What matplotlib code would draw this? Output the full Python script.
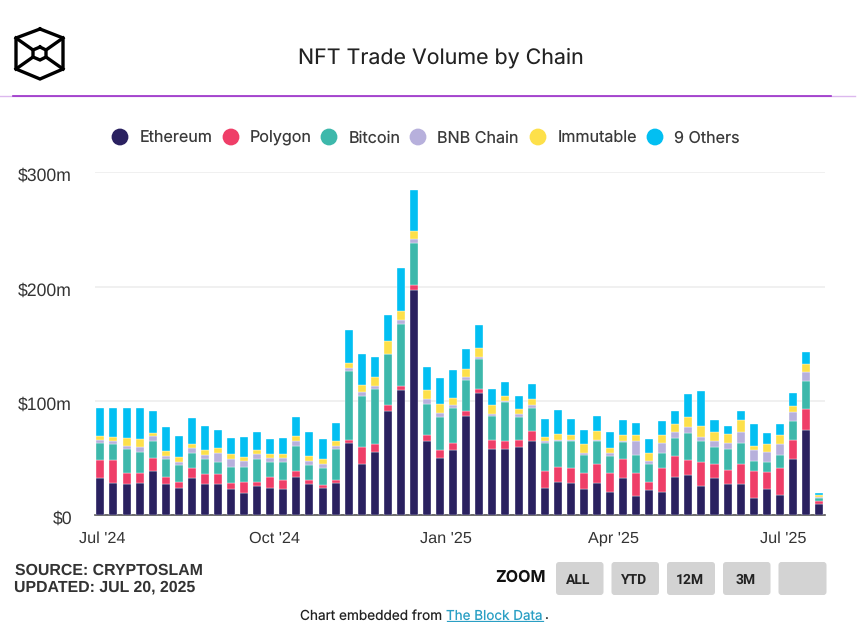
import matplotlib
matplotlib.use('Agg')
import matplotlib.pyplot as plt
import matplotlib.dates as mdates
import numpy as np
import pandas as pd
from matplotlib.patches import FancyBboxPatch, Circle
from matplotlib.transforms import ScaledTranslation

plt.rcParams['font.family'] = ['Inter', 'DejaVu Sans']
plt.rcParams['text.hinting'] = 'no_hinting'

# weekly values in $m
ethereum = [32.2, 28.4, 27.0, 28.4, 38.8, 27.0, 24.3, 32.2, 27.0, 27.0, 23.2, 19.1, 25.8, 24.3,
            23.2, 33.6, 27.0, 24.3, 28.1, 63.6, 45.2, 55.7, 91.2, 109.6, 197.4, 65.0, 50.4, 57.1,
            87.2, 107.0, 58.3, 58.3, 59.7, 65.0, 24.1, 29.3, 28.1, 23.2, 28.4, 20.6, 32.2, 16.5,
            21.7, 20.6, 33.8, 35.0, 25.8, 32.2, 27.0, 27.0, 15.4, 23.2, 18.0, 49.6, 74.4, 10.1]
polygon = [15.9, 19.7, 10.4, 9.0, 11.3, 6.7, 4.9, 9.3, 9.3, 9.3, 5.2, 10.1, 3.5, 9.3,
           7.8, 5.5, 4.1, 2.6, 2.6, 2.3, 14.5, 6.4, 5.2, 3.8, 3.8, 5.2, 6.4, 6.4,
           4.1, 3.8, 7.5, 6.7, 6.1, 9.0, 14.5, 13.0, 13.0, 14.2, 16.5, 16.8, 17.1, 20.9,
           7.8, 20.9, 18.3, 13.0, 20.9, 13.0, 13.0, 18.3, 23.5, 14.5, 23.5, 16.6, 18.4, 2.6]
bitcoin = [15.4, 14.2, 20.6, 18.3, 14.8, 15.9, 14.8, 13.0, 13.0, 10.4, 14.2, 13.3, 20.0, 13.0,
           15.7, 21.7, 13.0, 14.5, 27.0, 60.6, 44.3, 48.7, 44.4, 53.9, 37.0, 27.4, 29.2, 30.3,
           27.4, 26.3, 21.3, 34.1, 20.1, 19.8, 24.6, 22.3, 23.5, 15.7, 20.0, 14.5, 14.5, 15.7,
           15.7, 13.0, 15.7, 23.6, 18.4, 14.5, 18.3, 18.3, 9.0, 9.0, 11.6, 16.0, 25.0, 2.0]
bnb = [2.0, 2.3, 2.9, 4.1, 4.1, 2.3, 2.6, 4.1, 3.8, 7.8, 6.7, 5.2, 4.1, 3.8,
       3.8, 4.1, 3.8, 3.8, 2.9, 2.6, 3.5, 2.6, 0.6, 3.8, 3.8, 3.8, 3.8, 2.6,
       2.6, 1.4, 1.4, 1.2, 2.6, 2.6, 1.4, 1.2, 1.2, 1.2, 1.2, 2.6, 1.2, 11.9,
       2.6, 9.0, 5.2, 5.2, 3.8, 5.2, 5.2, 9.3, 9.3, 9.0, 9.3, 7.8, 7.8, 1.2]
immutable = [3.5, 4.3, 6.7, 6.7, 2.6, 4.1, 4.1, 3.8, 4.1, 4.1, 4.1, 2.9, 3.8, 2.9,
             2.9, 4.1, 4.1, 4.1, 4.1, 4.1, 6.1, 7.8, 11.3, 7.8, 6.7, 8.1, 7.8, 6.4,
             6.7, 7.8, 7.8, 4.1, 4.1, 5.2, 4.1, 5.2, 4.1, 7.8, 7.8, 4.1, 5.2, 5.2,
             6.7, 6.7, 6.7, 9.0, 9.3, 7.8, 7.8, 10.4, 3.8, 6.7, 7.8, 5.5, 6.7, 1.7]
others = [24.6, 24.6, 26.1, 27.2, 19.4, 20.9, 18.3, 22.3, 20.9, 15.7, 14.2, 18.3, 15.7, 13.0,
          14.2, 16.8, 20.9, 17.1, 15.7, 28.9, 27.4, 17.2, 22.4, 37.0, 35.6, 19.8, 22.4, 23.9,
          17.2, 19.8, 14.5, 11.9, 11.6, 13.0, 15.7, 21.2, 14.5, 12.2, 13.0, 14.2, 13.0, 10.4,
          11.9, 11.9, 11.6, 20.1, 30.3, 10.4, 6.7, 7.8, 18.6, 9.3, 9.3, 11.6, 10.4, 1.7]

series = [('Ethereum', ethereum, '#2a2160'), ('Polygon', polygon, '#ef3e68'),
          ('Bitcoin', bitcoin, '#3db8ab'), ('BNB Chain', bnb, '#b7b0dc'),
          ('Immutable', immutable, '#fde04a'), ('9 Others', others, '#02bff2')]
weeks = pd.date_range('2024-06-30', periods=56, freq='7D')
tick_dates = pd.to_datetime(['2024-07-01', '2024-10-01', '2025-01-01', '2025-04-01', '2025-07-01'])
tick_labels = ["Jul '24", "Oct '24", "Jan '25", "Apr '25", "Jul '25"]
y_ticks = [0, 100, 200, 300]
y_labels = ['$0', '$100m', '$200m', '$300m']

W, H = 858, 622
fig = plt.figure(figsize=(W / 100, H / 100), dpi=100, facecolor='white')

ax = fig.add_axes([95 / W, 1 - 515.3 / H, 730 / W, 343 / H])
bottom = np.zeros(len(weeks))
for name, vals, col in series:
    ax.bar(weeks, vals, width=4.3, bottom=bottom, color=col, edgecolor='white', linewidth=0.25, zorder=3)
    bottom += np.array(vals)

ax.set_xlim(weeks[0] - pd.Timedelta(days=2.9), weeks[-1] + pd.Timedelta(days=3.2))
ax.set_ylim(0, 300)
ax.set_yticks(y_ticks)
ax.set_yticklabels(y_labels, fontsize=12.7, color='#333333', family=['Liberation Sans'])
ax.set_xticks(mdates.date2num(tick_dates))
ax.set_xticklabels(tick_labels, fontsize=11.7, color='#333333', family=['Liberation Sans'])
ax.tick_params(axis='both', length=0)
ax.tick_params(axis='x', pad=11.5)
ax.tick_params(axis='y', pad=16.5)
shift = ScaledTranslation(0, -1.6 / 72, fig.dpi_scale_trans)
for lab in ax.get_yticklabels():
    lab.set_transform(lab.get_transform() + shift)
ax.grid(axis='y', color='#eeeeee', linewidth=1.2, zorder=0)
for s in ['top', 'right', 'left']:
    ax.spines[s].set_visible(False)
ax.spines['bottom'].set_color('#555555')
ax.spines['bottom'].set_linewidth(1.2)
ax.patch.set_alpha(0)

# overlay in pixel coordinates for header, legend and footer
ov = fig.add_axes([0, 0, 1, 1], zorder=-1)
ov.set_xlim(0, W)
ov.set_ylim(H, 0)
ov.axis('off')

ov.text(440.5, 64, 'NFT Trade Volume by Chain', fontsize=15.4, ha='center', va='baseline', color='#222222')
ov.plot([0, 855], [95.5, 95.5], color='#dcb8ee', lw=1.0)
ov.plot([13, 831], [95.5, 95.5], color='#9a2fc8', lw=1.2)

# logo
k = dict(color='black', lw=2.4, solid_joinstyle='miter')
hx = [40, 63, 63, 40, 16, 16, 40]
hy = [29, 38, 69, 79, 69, 38, 29]
ov.plot(hx, hy, **k)
ov.plot([40, 46, 46, 40, 33, 33, 40], [47, 50, 57, 60, 57, 50, 47], **k)
ov.plot([16, 33], [38, 50], **k)
ov.plot([63, 46], [38, 50], **k)
ov.plot([16, 33], [69, 57], **k)
ov.plot([63, 46], [69, 57], **k)

# legend
marker_x = [120, 231, 329, 418, 538, 655]
text_x = [140, 250, 349, 437, 558, 674]
for (name, vals, col), mx, tx in zip(series, marker_x, text_x):
    ov.add_patch(Circle((mx, 137), 8.4, color=col, lw=0))
    ov.text(tx, 142.5, name, fontsize=11.6, va='baseline', color='#3a3a3a')

# footer
foot = dict(fontsize=11.4, fontweight='bold', va='center', color='#333333', family=['Liberation Sans'])
ov.text(15, 570.7, 'SOURCE: CRYPTOSLAM', **foot)
ov.text(14, 587.3, 'UPDATED: JUL 20, 2025', **foot)
ov.text(495, 578, 'ZOOM', fontsize=11.6, fontweight='bold', va='center', color='#111111')
buttons = [(556, 603.5, 'ALL'), (611.5, 659, 'YTD'), (667, 715, '12M'), (723, 770.5, '3M'), (778.5, 826.5, '')]
for x0, x1, lab in buttons:
    ov.add_patch(FancyBboxPatch((x0, 562), x1 - x0, 33, boxstyle='round,pad=0,rounding_size=3',
                                fc='#d3d3d3', ec='none'))
    ov.text((x0 + x1) / 2 - 1.5, 580, lab, fontsize=10, fontweight='bold', ha='center', va='center',
            color='#222222', family=['Roboto'])
ov.text(300, 620, 'Chart embedded from', fontsize=9.8, va='baseline', color='#222222')
ov.text(446.5, 620, 'The Block Data', fontsize=9.7, va='baseline', color='#2a9fc4')
ov.plot([446.5, 543], [621.3, 621.3], color='#2a9fc4', lw=0.9)
ov.text(544, 620, '.', fontsize=9.7, va='baseline', color='#222222')

fig.savefig('out.png', dpi=100, facecolor='white')
